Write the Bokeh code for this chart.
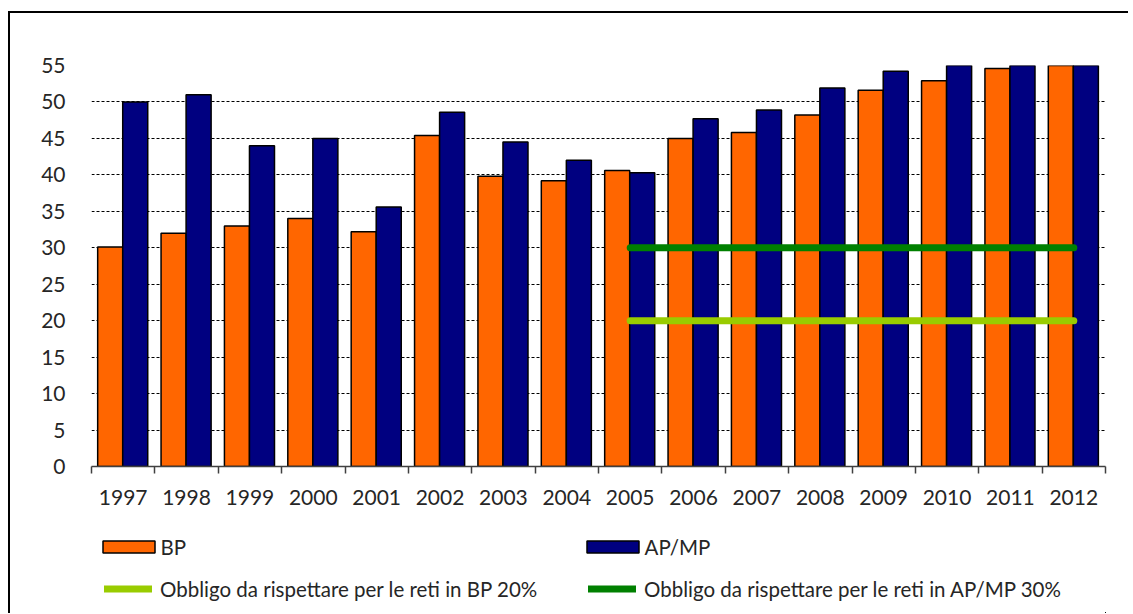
from bokeh.plotting import figure
from bokeh.layouts import column
from bokeh.models import (Range1d, LinearAxis, FixedTicker, Legend, LegendItem)
from bokeh.embed import file_html
from bokeh.resources import INLINE

# ---- data ----
years = ["1997", "1998", "1999", "2000", "2001", "2002", "2003", "2004",
         "2005", "2006", "2007", "2008", "2009", "2010", "2011", "2012"]
bp = [30.1, 32.0, 33.0, 34.0, 32.2, 45.4, 39.8, 39.2,
      40.6, 45.0, 45.8, 48.2, 51.6, 52.9, 54.6, 57.0]
apmp = [50.0, 51.0, 44.0, 45.0, 35.6, 48.6, 44.5, 42.0,
        40.3, 47.7, 48.9, 51.9, 54.2, 57.0, 59.0, 60.0]
target_years = ["2005", "2006", "2007", "2008", "2009", "2010", "2011", "2012"]
target_bp = [20] * len(target_years)
target_apmp = [30] * len(target_years)
y_ticks = [0, 5, 10, 15, 20, 25, 30, 35, 40, 45, 50, 55]
series_labels = ["BP", "AP/MP",
                 "Obbligo da rispettare per le reti in BP 20%",
                 "Obbligo da rispettare per le reti in AP/MP 30%"]

ORANGE = "#FF6600"
NAVY = "#000080"
LGREEN = "#99CC00"
DGREEN = "#008000"
TXT = "#262626"
FONT = "Lato"
W = 1118

idx = {y: i for i, y in enumerate(years)}
x_bp = [i + 0.295 for i in range(len(years))]
x_ap = [i + 0.69 for i in range(len(years))]
x_t = [idx[y] + 0.5 for y in target_years]
centers = [i + 0.5 for i in range(len(years))]
bounds = list(range(len(years) + 1))

# ---------------- main chart ----------------
p = figure(width=W, height=502, output_backend="svg", toolbar_location=None,
           x_range=Range1d(0, len(years)), y_range=Range1d(0, 55),
           x_axis_location=None, y_axis_location=None,
           min_border_left=81, min_border_right=23, min_border_top=52,
           min_border_bottom=49)
p.outline_line_color = None
p.background_fill_color = "white"
p.border_fill_color = "white"

p.xgrid.visible = False
p.ygrid.ticker = FixedTicker(ticks=y_ticks[1:])
p.ygrid.grid_line_color = "black"
p.ygrid.grid_line_dash = "3 2"
p.ygrid.grid_line_width = 1

yax = LinearAxis(ticker=FixedTicker(ticks=y_ticks))
yax.axis_line_color = None
yax.major_tick_line_color = None
yax.minor_tick_line_color = None
yax.major_label_standoff = 20
yax.major_label_text_font = FONT
yax.major_label_text_font_size = "21px"
yax.major_label_text_color = TXT
p.add_layout(yax, "left")

xax = LinearAxis(ticker=FixedTicker(ticks=centers, minor_ticks=bounds))
xax.major_label_overrides = {c: y for c, y in zip(centers, years)}
xax.axis_line_color = "#404040"
xax.axis_line_width = 1.5
xax.major_tick_line_color = None
xax.major_tick_in = 0
xax.major_tick_out = 0
xax.minor_tick_line_color = "#404040"
xax.minor_tick_line_width = 1.5
xax.minor_tick_in = 0
xax.minor_tick_out = 7
xax.major_label_standoff = 16
xax.major_label_text_font = FONT
xax.major_label_text_font_size = "21px"
xax.major_label_text_color = TXT
p.add_layout(xax, "below")

p.vbar(x=x_bp, top=bp, bottom=0, width=0.395, fill_color=ORANGE,
       line_color="black", line_width=1.5)
p.vbar(x=x_ap, top=apmp, bottom=0, width=0.395, fill_color=NAVY,
       line_color="black", line_width=1.5)
p.line(x=x_t, y=target_bp, line_color=LGREEN, line_width=7, line_cap="round")
p.line(x=x_t, y=target_apmp, line_color=DGREEN, line_width=7, line_cap="round")

# ---------------- legend strip (same series, ranges chosen so nothing is in view) ----------------
q = figure(width=W, height=98, output_backend="svg", toolbar_location=None,
           x_range=Range1d(-1000, -999), y_range=Range1d(1000, 1001),
           x_axis_location=None, y_axis_location=None,
           min_border=0)
q.outline_line_color = None
q.grid.visible = False
q.background_fill_color = "white"
q.border_fill_color = "white"

k_bp = q.vbar(x=x_bp, top=bp, bottom=0, width=0.395, fill_color=ORANGE,
              line_color="black", line_width=1.5)
k_ap = q.vbar(x=x_ap, top=apmp, bottom=0, width=0.395, fill_color=NAVY,
              line_color="black", line_width=1.5)
k_t1 = q.line(x=x_t, y=target_bp, line_color=LGREEN, line_width=7, line_cap="round")
k_t2 = q.line(x=x_t, y=target_apmp, line_color=DGREEN, line_width=7, line_cap="round")

def style_legend(lg):
    lg.orientation = "horizontal"
    lg.border_line_color = None
    lg.background_fill_alpha = 0
    lg.padding = 0
    lg.margin = 0
    lg.spacing = 0
    lg.label_text_font = FONT
    lg.label_text_font_size = "20.5px"
    lg.label_text_color = TXT
    lg.glyph_height = 15
    lg.label_height = 15

legA = Legend(items=[LegendItem(label=series_labels[0], renderers=[k_bp]),
                     LegendItem(label=series_labels[1], renderers=[k_ap])],
              location=(4.5, 54.5))
style_legend(legA)
legA.glyph_width = 65
legA.label_standoff = 0
legA.label_width = 419
q.add_layout(legA, "center")

legB = Legend(items=[LegendItem(label=series_labels[2], renderers=[k_t1]),
                     LegendItem(label=series_labels[3], renderers=[k_t2])],
              location=(13, 12.5))
style_legend(legB)
legB.glyph_width = 48
legB.label_standoff = 8
legB.label_width = 428
q.add_layout(legB, "center")

layout = column(p, q, spacing=0)
layout.styles = {"border-left": "2px solid black", "border-top": "2px solid black",
                 "margin-left": "8px", "margin-top": "11px"}

open("out.html", "w").write(file_html(layout, INLINE))
